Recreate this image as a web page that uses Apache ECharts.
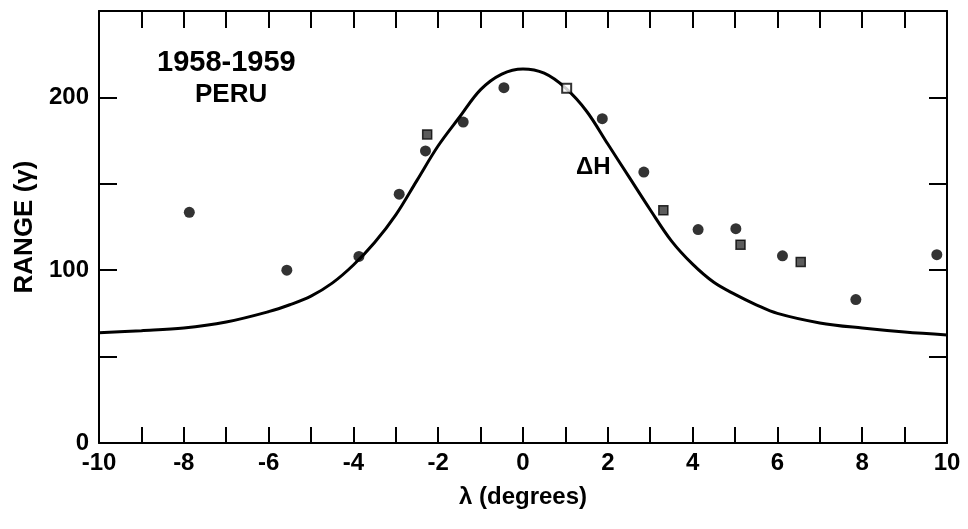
<!DOCTYPE html>
<html>
<head>
<meta charset="utf-8">
<script src="https://cdn.jsdelivr.net/npm/echarts@6/dist/echarts.min.js"></script>
<style>
html,body{margin:0;padding:0;background:#fff;}
#chart{width:968px;height:529px;}
</style>
</head>
<body>
<div id="chart"></div>
<script>
// ---- data ----
const curveX = [-10, -9, -8, -7, -6, -5.5, -5, -4.5, -4, -3.5, -3, -2.5, -2, -1.5, -1, -0.5, 0, 0.5, 1, 1.5, 2, 2.5, 3, 3.5, 4, 4.5, 5, 5.5, 6, 7, 8, 9, 10];
const curveY = [63.8, 65, 66.5, 70, 76, 80, 85, 92.5, 103, 116, 132, 152, 172, 188.5, 204.5, 213.5, 216.5, 214, 205.5, 192, 173, 154, 135, 117, 103.5, 93, 86, 80, 75, 69.5, 66.5, 64.2, 62.5];
const circleX = [-7.87, -5.57, -3.87, -2.92, -2.30, -1.41, -0.45, 1.87, 2.85, 4.13, 5.02, 6.12, 7.85, 9.76];
const circleY = [133.5, 100, 108, 144, 169, 185.7, 205.6, 187.7, 156.8, 123.5, 124, 108.3, 83, 109];
const squareX = [-2.26, 3.31, 5.13, 6.55];
const squareY = [178.6, 134.7, 114.8, 104.8];
const openSquareX = [1.03];
const openSquareY = [205.3];
const xTickLabels = [-10, -8, -6, -4, -2, 0, 2, 4, 6, 8, 10];
const yTickLabels = [0, 100, 200];
const titleLines = ['1958-1959', 'PERU'];
const curveLabel = 'ΔH';
const xName = 'λ (degrees)';
const yName = 'RANGE (γ)';

const zip = (a, b) => a.map((v, i) => [v, b[i]]);
const FONT = '"Liberation Sans", Arial, sans-serif';
const lineStyle = { color: '#000', width: 2 };
const tickStyle = { color: '#000', width: 2 };

const chart = echarts.init(document.getElementById('chart'), null, { renderer: 'canvas' });
chart.setOption({
  backgroundColor: '#fff',
  animation: false,
  grid: { left: 99, right: 21, top: 11, bottom: 86 },
  xAxis: [
    {
      type: 'value', position: 'bottom', min: -10, max: 10, interval: 1,
      axisLine: { show: true, onZero: false, lineStyle: lineStyle },
      axisTick: { show: true, inside: true, length: 16, lineStyle: tickStyle },
      splitLine: { show: false },
      axisLabel: {
        margin: 8, color: '#000', fontSize: 24, fontWeight: 'bold', fontFamily: FONT,
        formatter: v => xTickLabels.includes(v) ? String(v) : ''
      },
      name: xName, nameLocation: 'middle', nameGap: 42,
      nameTextStyle: { color: '#000', fontSize: 24, fontWeight: 'bold', fontFamily: FONT }
    },
    {
      type: 'value', position: 'top', min: -10, max: 10, interval: 1,
      axisLine: { show: true, onZero: false, lineStyle: lineStyle },
      axisTick: { show: true, inside: true, length: 17, lineStyle: tickStyle },
      splitLine: { show: false },
      axisLabel: { show: false }
    }
  ],
  yAxis: [
    {
      type: 'value', position: 'left', min: 0, max: 250, interval: 50,
      axisLine: { show: true, onZero: false, lineStyle: lineStyle },
      axisTick: { show: true, inside: true, length: 18, lineStyle: tickStyle },
      splitLine: { show: false },
      axisLabel: {
        margin: 10, color: '#000', fontSize: 24, fontWeight: 'bold', fontFamily: FONT,
        formatter: v => yTickLabels.includes(v) ? String(v) : ''
      },
      name: yName, nameLocation: 'middle', nameGap: 58, nameRotate: 90,
      nameTextStyle: { color: '#000', fontSize: 26, fontWeight: 'bold', fontFamily: FONT }
    },
    {
      type: 'value', position: 'right', min: 0, max: 250, interval: 50,
      axisLine: { show: true, onZero: false, lineStyle: lineStyle },
      axisTick: { show: true, inside: true, length: 18, lineStyle: tickStyle },
      splitLine: { show: false },
      axisLabel: { show: false }
    }
  ],
  series: [
    {
      type: 'line', xAxisIndex: 0, yAxisIndex: 0,
      data: zip(curveX, curveY), smooth: 0.35, showSymbol: false, symbol: 'none',
      lineStyle: { color: '#000', width: 3 }, z: 2
    },
    {
      type: 'scatter', xAxisIndex: 0, yAxisIndex: 0,
      data: zip(circleX, circleY), symbol: 'circle', symbolSize: 11,
      itemStyle: { color: '#000' }, z: 3
    },
    {
      type: 'scatter', xAxisIndex: 0, yAxisIndex: 0,
      data: zip(squareX, squareY), symbol: 'rect', symbolSize: 9,
      itemStyle: { color: '#333', borderColor: '#000', borderWidth: 1.5 }, z: 3
    },
    {
      type: 'scatter', xAxisIndex: 0, yAxisIndex: 0,
      data: zip(openSquareX, openSquareY), symbol: 'rect', symbolSize: 9,
      itemStyle: { color: '#fff', borderColor: '#000', borderWidth: 2 }, z: 4
    }
  ],
  graphic: [
    { type: 'text', left: 157, top: 48, style: { text: titleLines[0], fill: '#000', font: 'bold 29px ' + FONT } },
    { type: 'text', left: 195, top: 82, style: { text: titleLines[1], fill: '#000', font: 'bold 26px ' + FONT } },
    { type: 'text', left: 576, top: 155, style: { text: curveLabel, fill: '#000', font: 'bold 24px ' + FONT } }
  ]
});
</script>
</body>
</html>
